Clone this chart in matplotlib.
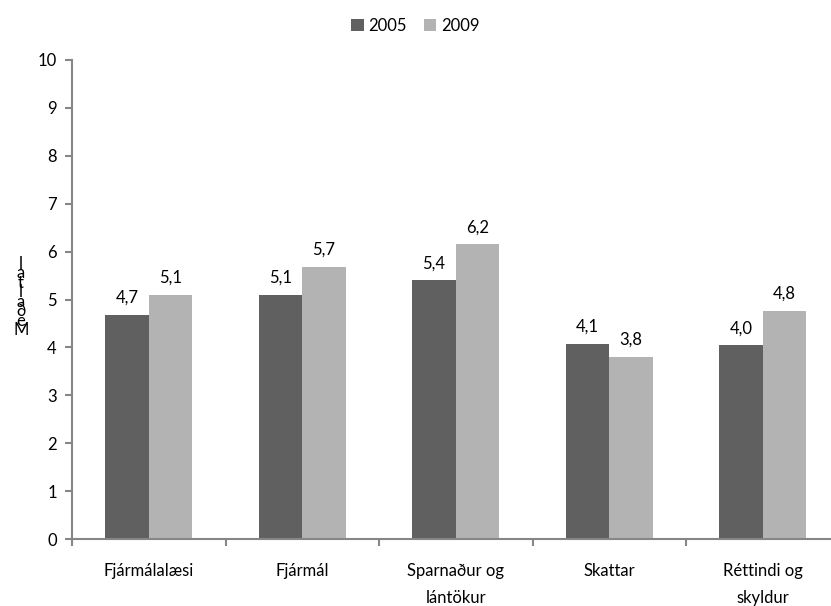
import matplotlib

matplotlib.use("Agg")

import matplotlib.pyplot as plt  # noqa: E402
import numpy as np  # noqa: E402

categories = ["Fjármálalæsi", "Fjármál", "Sparnaður og\nlántökur", "Skattar", "Réttindi og\nskyldur"]
values_2005 = [4.68, 5.10, 5.40, 4.07, 4.04]
values_2009 = [5.10, 5.68, 6.15, 3.80, 4.76]
labels_2005 = ["4,7", "5,1", "5,4", "4,1", "4,0"]
labels_2009 = ["5,1", "5,7", "6,2", "3,8", "4,8"]
y_label = "Meðaltal"

DARK = "#606060"
LIGHT = "#b3b3b3"
AXIS = "#868686"
FS = 12

plt.rcParams["font.family"] = ["Lato", "DejaVu Sans"]

fig = plt.figure(figsize=(8.31, 6.06), dpi=100)
# the original plot area runs a little past the right edge of the image
ax = fig.add_axes([72 / 831, 67 / 606, 767.5 / 831, 479 / 606])

x = np.arange(len(categories))
w = 0.283
b1 = ax.bar(x - w / 2, values_2005, w, color=DARK, label="2005")
b2 = ax.bar(x + w / 2, values_2009, w, color=LIGHT, label="2009")
for bars, labs in ((b1, labels_2005), (b2, labels_2009)):
    for bar, lab in zip(bars, labs):
        ax.annotate(lab, (bar.get_x() + bar.get_width() / 2, bar.get_height()),
                    xytext=(0, 6.5), textcoords="offset points",
                    ha="center", va="bottom", fontsize=FS)

ax.set_xlim(-0.5, len(categories) - 0.5)
ax.set_ylim(0, 10)
ax.set_yticks(range(0, 11))
ax.tick_params(axis="y", labelsize=FS, color=AXIS, length=5, width=1.5, pad=6)
ax.set_xticks(np.arange(len(categories) + 1) - 0.5)
ax.set_xticklabels([])
ax.set_xticks(x, minor=True)
ax.set_xticklabels(categories, minor=True, fontsize=FS)
for t in ax.get_xticklabels(minor=True):
    t.set_linespacing(1.9)
ax.tick_params(axis="x", which="major", color=AXIS, length=5, width=1.5)
ax.tick_params(axis="x", which="minor", length=0, pad=17)
for s in ("top", "right"):
    ax.spines[s].set_visible(False)
for s in ("left", "bottom"):
    ax.spines[s].set_color(AXIS)
    ax.spines[s].set_linewidth(1.5)

# stacked, overlapping letters of the axis title, as in the original export
fig.text(0.025, 0.51, "\n".join(reversed(y_label)), ha="center", va="center",
         fontsize=FS, linespacing=0.5)

fig.legend(loc="upper center", bbox_to_anchor=(0.5, 0.995), ncol=2, frameon=False,
           fontsize=FS, handlelength=0.75, handleheight=0.75, handletextpad=0.3,
           columnspacing=1.0)

fig.savefig("out.png", dpi=100)
